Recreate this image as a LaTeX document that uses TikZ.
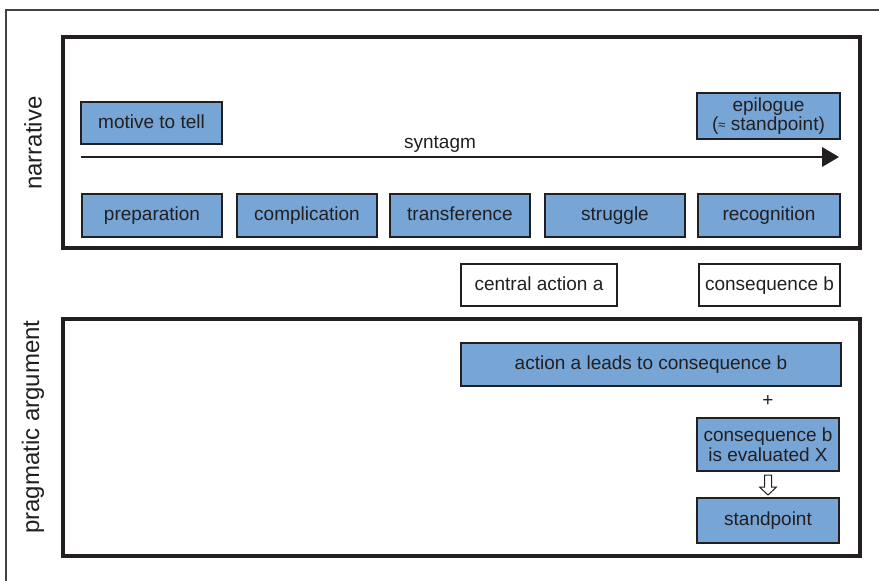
\documentclass[tikz,border=0pt]{standalone}
\usepackage{fontspec}
\setmainfont{Liberation Sans}
\usetikzlibrary{calc}
\definecolor{boxblue}{HTML}{76A5D6}
\definecolor{ink}{HTML}{231F20}
\begin{document}
\begin{tikzpicture}[x=1pt,y=-1pt,
  every node/.style={text=ink,font=\fontsize{19}{22}\selectfont},
  bbox/.style={draw=ink,line width=2pt,fill=boxblue,inner sep=0pt,align=center},
  wbox/.style={draw=ink,line width=2pt,fill=white,inner sep=0pt,align=center},
  one/.style={text height=14pt,text depth=4pt},
  frame/.style={draw=ink,line width=4pt},
  outer/.style={draw=ink!85,line width=2pt},
  label/.style={rotate=90,inner sep=0pt,font=\fontsize{24}{28}\selectfont}]
\useasboundingbox (0,0) rectangle (879,581);
% outer frame (cut by picture edge)
\draw[outer] (880,10) -- (6,10) -- (6,582);
% frames
\draw[frame] (63,37) rectangle (860,248);
\draw[frame] (63,319) rectangle (860,556);
\node[label] (narr) at (33,143) {narrative};
\node[label] (prag) at (33,427) {pragmatic argument};
% narrative
\node[bbox,one,minimum width=141,minimum height=42] (motive) at (151.5,123) {motive to tell};
\node[bbox,minimum width=143,minimum height=46] (epi) at (768.5,116) {epilogue\\[-3pt](\raisebox{1pt}{\fontsize{13}{13}\selectfont\char"2248} standpoint)};
\coordinate (s0) at (81,157);
\coordinate (s1) at (839,157);
\draw[ink,line width=1.5pt] (s0) -- ($(s1)+(-16,0)$);
\fill[ink] (s1) -- ++(-17,-10) -- ++(0,20) -- cycle;
\node[inner sep=0pt] (syn) at (440,144) {syntagm};
\node[bbox,one,minimum width=140,minimum height=43] (prep) at (152,215.5) {preparation};
\node[bbox,one,minimum width=140,minimum height=43] (comp) at (307,215.5) {complication};
\node[bbox,one,minimum width=140,minimum height=43] (trans) at (460,215.5) {transference};
\node[bbox,one,minimum width=140,minimum height=43] (strug) at (615,215.5) {struggle};
\node[bbox,one,minimum width=142,minimum height=43] (recog) at (769,215.5) {recognition};
% middle
\node[wbox,one,minimum width=156,minimum height=42] (cact) at (539,285) {central action a};
\node[wbox,one,minimum width=141,minimum height=42] (cons) at (769.5,285) {consequence b};
% pragmatic argument
\node[bbox,one,minimum width=380,minimum height=43] (lead) at (651,364.5) {action a leads to consequence b};
\node[inner sep=0pt] (plus) at (768,401) {+};
\node[bbox,minimum width=142,minimum height=53] (eval) at (768,444.5) {consequence b\\[-2pt]is evaluated X};
\node[bbox,one,minimum width=142,minimum height=45] (stand) at (768,520.5) {standpoint};
\draw[draw=ink,line width=1pt,fill=white,line join=miter]
  ($(eval.south)+(-3.5,3)$) -- ($(eval.south)+(3.5,3)$) -- ($(eval.south)+(3.5,15)$)
  -- ($(eval.south)+(8.5,15)$) -- ($(stand.north)+(0,-2)$) -- ($(eval.south)+(-8.5,15)$)
  -- ($(eval.south)+(-3.5,15)$) -- cycle;
\end{tikzpicture}
\end{document}
